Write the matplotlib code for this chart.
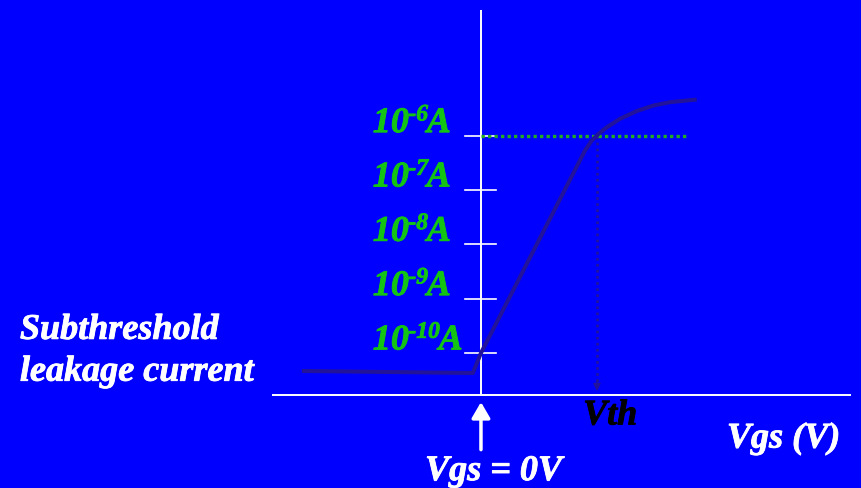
import matplotlib
matplotlib.use("Agg")
import matplotlib.pyplot as plt
import matplotlib.patheffects as pe

# Data (x: Vgs in arbitrary volts, y: log10 of drain current)
vgs = [-0.772, -0.035, 0.0, 0.448, 0.477, 0.506, 0.542, 0.599, 0.671, 0.743, 0.815, 0.930]
log_id = [-10.331, -10.368, -10.0, -6.276, -6.092, -5.969, -5.846, -5.69, -5.548, -5.445, -5.383, -5.335]
tick_exps = [-6, -7, -8, -9, -10]
tick_sup = ["-6", "-7", "-8", "-9", "-10"]
vth = 0.5
vth_logid = -6.0
green_end = 0.888

BLUE = '#0000FF'
CURVE = '#22139a'
GREEN_DOT = '#22aa22'
GREEN_TXT = '#14c414'

fig = plt.figure(figsize=(8.61, 4.89), dpi=100)
fig.patch.set_facecolor(BLUE)
ax = fig.add_axes([0, 0, 1, 1])
ax.set_facecolor(BLUE)
ax.set_xlim(-2.073, 1.638)
ax.set_ylim(-12.485, -3.484)
ax.axis('off')

x_axis_y = -10.773
# axes lines
ax.plot([0, 0], [x_axis_y, -3.685], color='white', lw=1.4, solid_capstyle='butt')
ax.plot([-0.901, 1.595], [x_axis_y, x_axis_y], color='white', lw=1.4, solid_capstyle='butt')
for e in tick_exps:
    ax.plot([-0.069, 0.065], [e, e], color='white', lw=1.2)

# green dotted threshold current line
ax.plot([0, green_end], [vth_logid, vth_logid], color=GREEN_DOT, lw=2.4,
        linestyle=(0, (1, 0.95)), zorder=3)

# vertical dotted line down to Vth with arrow
ax.plot([vth, vth], [vth_logid, x_axis_y + 0.2], color=CURVE, lw=1.9,
        linestyle=(0, (1, 1.3)), zorder=2)
ax.annotate('', xy=(vth, x_axis_y + 0.02), xytext=(vth, x_axis_y + 0.3),
            arrowprops=dict(arrowstyle='-|>', color=CURVE, lw=1.0,
                            mutation_scale=11))

# the curve
ax.plot(vgs, log_id, color=CURVE, lw=2.9, solid_joinstyle='round',
        solid_capstyle='butt', zorder=4)

FS = 26
heavy_w = [pe.withStroke(linewidth=0.6, foreground='white')]
heavy_g = [pe.withStroke(linewidth=0.6, foreground=GREEN_TXT)]
heavy_k = [pe.withStroke(linewidth=0.6, foreground='black')]
tfont = dict(family='Liberation Serif', weight='bold', style='italic')

# tick labels: "10" + superscript exponent + "A"
for e, sup in zip(tick_exps, tick_sup):
    t10 = ax.text(-0.466, e + 0.065, '10', color=GREEN_TXT, fontsize=FS,
                  ha='left', va='baseline', path_effects=heavy_g, **tfont)
    ts = ax.annotate(sup, xy=(1, e + 0.28), xycoords=(t10, 'data'),
                     xytext=(-0.5, 0), textcoords='offset points',
                     color=GREEN_TXT, fontsize=17, ha='left', va='baseline',
                     path_effects=heavy_g, **tfont)
    ax.annotate('A', xy=(1, e + 0.065), xycoords=(ts, 'data'),
                xytext=(-1.0, 0), textcoords='offset points',
                color=GREEN_TXT, fontsize=FS, ha='left', va='baseline',
                path_effects=heavy_g, **tfont)

ax.text(-1.987, -9.74, 'Subthreshold', color='white', ha='left', va='baseline',
        fontsize=FS, path_effects=heavy_w, **tfont)
ax.text(-1.987, -10.51, 'leakage current', color='white', ha='left', va='baseline',
        fontsize=FS, path_effects=heavy_w, **tfont)

# white arrow at Vgs = 0
ax.annotate('', xy=(0, -10.853), xytext=(0, -11.83),
            arrowprops=dict(arrowstyle='-|>,head_width=0.35,head_length=0.6',
                            color='white', lw=2.5, mutation_scale=16))
ax.text(-0.241, -12.34, 'Vgs = 0V', color='white', ha='left', va='baseline',
        fontsize=FS, path_effects=heavy_w, **tfont)
ax.text(0.440, -11.315, 'Vth', color='black', ha='left', va='baseline',
        fontsize=FS, path_effects=heavy_k, **tfont)
ax.text(1.060, -11.74, 'Vgs (V)', color='white', ha='left', va='baseline',
        fontsize=FS, path_effects=heavy_w, **tfont)

fig.savefig('out.png', dpi=100, facecolor=BLUE)
